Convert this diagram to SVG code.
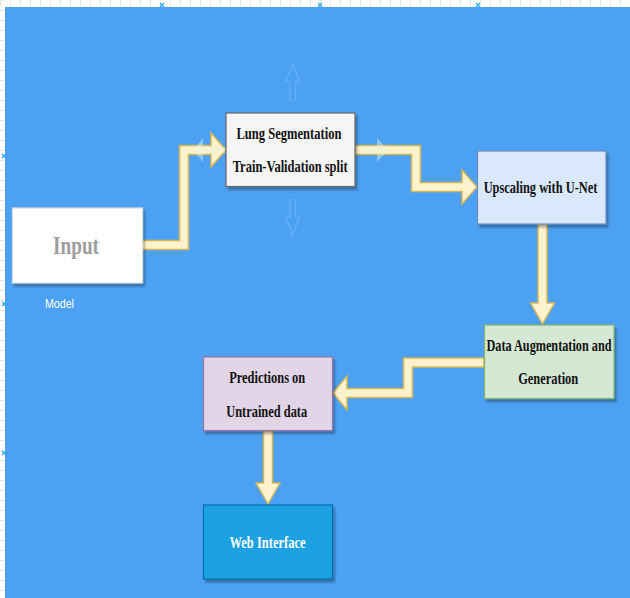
<svg xmlns="http://www.w3.org/2000/svg" width="630" height="598" viewBox="0 0 630 598">
<style>
.box{stroke-width:1.2;filter:url(#sh)}
.lbl{font-family:"Liberation Serif","Times New Roman",serif;font-weight:bold;font-size:17px;fill:#111;text-anchor:middle}
.arr{fill:#FFF2CC;stroke:#D6B656;stroke-width:1.5;stroke-linejoin:miter}
.ghost{fill:none;stroke:#6BB6F7;stroke-width:1.2;opacity:0.8}
.hint{fill:#E6F2E0;opacity:0.45;stroke:none}
.xm{stroke:#2AA8F0;stroke-width:1.3}
</style>
<defs>
<filter id="sh" x="-10%" y="-10%" width="130%" height="140%">
<feDropShadow dx="2" dy="3" stdDeviation="1" flood-color="#000" flood-opacity="0.3"/>
</filter>
</defs>
<rect x="0" y="0" width="630" height="598" fill="#FFFFFF"/>
<line x1="0" y1="3" x2="630" y2="3" stroke="#E4E4E4" stroke-width="6" stroke-dasharray="1 9"/>
<line x1="2" y1="0" x2="2" y2="598" stroke="#E4E4E4" stroke-width="4" stroke-dasharray="1 9"/>
<rect x="5" y="7" width="625" height="591" fill="#4CA1F2"/>
<g id="markers">
<path class="xm" d="M160 3l4 4M164 3l-4 4M318 3l4 4M322 3l-4 4M476 3l4 4M480 3l-4 4M2 154l4 4M6 154l-4 4M2 302l4 4M6 302l-4 4M2 451l4 4M6 451l-4 4"/>
</g>
<g id="hints">
<path class="ghost" d="M292.5 64L299.5 81.5L295.7 81.5L295.7 100L290 100L290 81.5L286 81.5Z"/>
<path class="ghost" d="M292.5 235L299.5 217L295.7 217L295.7 200L290 200L290 217L286 217Z"/>
</g>
<g id="connectors">
<polygon class="arr" points="142,240.5 179.5,240.5 179.5,145.5 211,145.5 211,133 226,150 211,167 211,154.5 188.5,154.5 188.5,249.5 142,249.5"/>
<polygon class="arr" points="355,145.5 420.5,145.5 420.5,182.5 462,182.5 462,170 477,187 462,204 462,191.5 411.5,191.5 411.5,154.5 355,154.5"/>
<polygon class="arr" points="538,224 547,224 547,303 554.5,303 542.5,324 530.5,303 538,303"/>
<polygon class="arr" points="484,358 403.5,358 403.5,388.5 347,388.5 347,376 333,393 347,410 347,397.5 412.5,397.5 412.5,367 484,367"/>
<polygon class="arr" points="263.5,431 272.5,431 272.5,483 280,483 268,504 256,483 263.5,483"/>
<path class="hint" d="M193 150L203 138L203 147L225 147L225 153L203 153L203 162Z"/>
<path class="hint" d="M388 150L377 138L377 147L362 147L362 153L377 153L377 162Z"/>
</g>
<g id="input">
<rect class="box" x="12.5" y="208" width="130" height="75" fill="#FFFFFF" stroke="#DDDDDD"/>
<text class="lbl" x="76" y="254" style="font-size:26px;fill:#9E9E9E" textLength="46" lengthAdjust="spacingAndGlyphs">Input</text>
</g>
<g id="model-label">
<text x="59.5" y="308" style="font-family:'Liberation Sans',Arial,sans-serif;font-size:13px;fill:#FFFFFF;text-anchor:middle" textLength="29" lengthAdjust="spacingAndGlyphs">Model</text>
</g>
<g id="lung">
<rect class="box" x="226" y="113" width="129" height="73.5" fill="#F5F5F5" stroke="#666666"/>
<text class="lbl" x="289" y="138.5" textLength="105" lengthAdjust="spacingAndGlyphs">Lung Segmentation</text>
<text class="lbl" x="290.2" y="171.7" textLength="115" lengthAdjust="spacingAndGlyphs">Train-Validation split</text>
</g>
<g id="upscaling">
<rect class="box" x="477.5" y="151" width="128.5" height="73" fill="#DAE8FC" stroke="#6C8EBF"/>
<text class="lbl" transform="translate(540.5 193.3) scale(0.73 1)" x="0" y="0">Upscaling with U-Net</text>
</g>
<g id="augmentation">
<rect class="box" x="484.5" y="325" width="129.5" height="73.5" fill="#D5E8D4" stroke="#82B366"/>
<text class="lbl" transform="translate(549 350.7) scale(0.72 1)" x="0" y="0">Data Augmentation and</text>
<text class="lbl" x="548.2" y="384" textLength="60" lengthAdjust="spacingAndGlyphs">Generation</text>
</g>
<g id="predictions">
<rect class="box" x="203.5" y="357" width="129" height="73.5" fill="#E1D5E7" stroke="#9673A6"/>
<text class="lbl" x="267.2" y="383.3" textLength="76" lengthAdjust="spacingAndGlyphs">Predictions on</text>
<text class="lbl" x="266.7" y="416.7" textLength="81" lengthAdjust="spacingAndGlyphs">Untrained data</text>
</g>
<g id="web">
<rect class="box" x="203.5" y="505" width="129" height="74" fill="#1BA1E2" stroke="#006EAF"/>
<text class="lbl" x="267.5" y="548.3" style="fill:#FFFFFF" textLength="76" lengthAdjust="spacingAndGlyphs">Web Interface</text>
</g>
</svg>
